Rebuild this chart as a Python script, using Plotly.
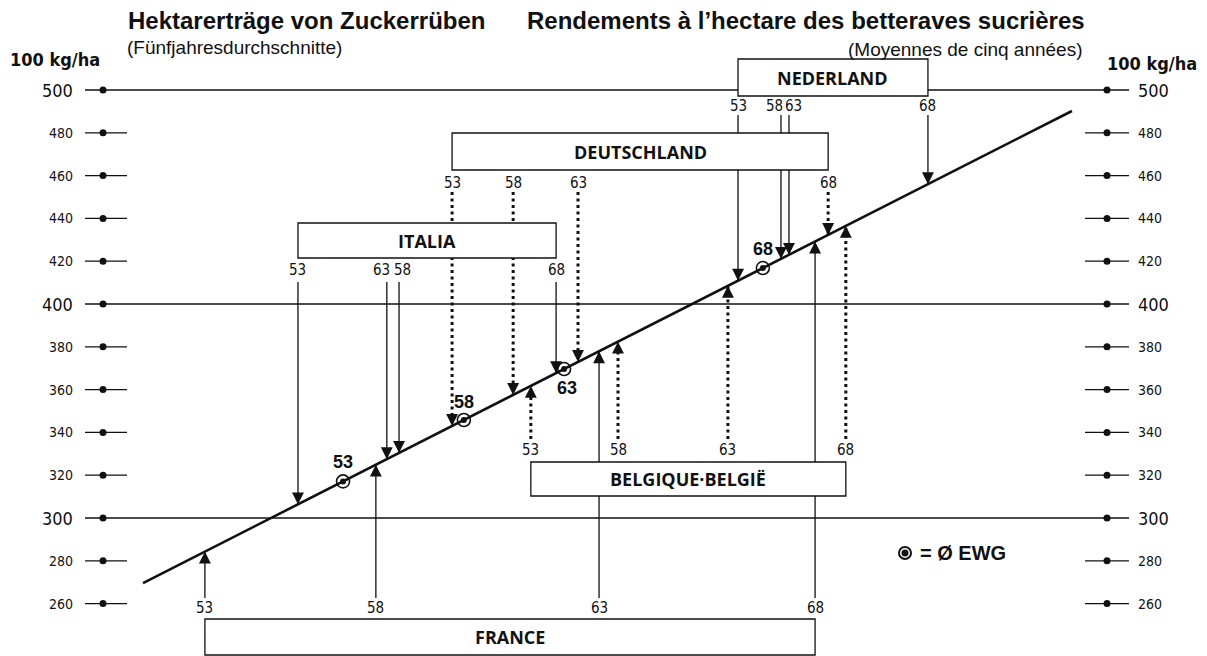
import plotly.graph_objects as go

# ---------------- data (100 kg/ha, five-year averages) ----------------
YEARS = ["53", "58", "63", "68"]
FRANCE = [284.3, 324.9, 377.9, 429.2]
BELGIQUE_BELGIE = [361.7, 382.4, 408.5, 436.5]
ITALIA = [306.4, 330.4, 327.5, 367.7]
DEUTSCHLAND = [343.0, 357.5, 372.9, 432.3]
NEDERLAND = [410.9, 421.1, 423.0, 456.0]
EWG = [317.1, 345.8, 369.6, 416.8]
TICK_VALUES = [260, 280, 300, 320, 340, 360, 380, 400, 420, 440, 460, 480, 500]
MAJOR_TICKS = [300, 400, 500]

# ---------------- geometry / styles ----------------
W, H = 1207, 656
PX_X = 4.211          # pixels per unit along x (diagonal scale)
PX_Y = 2.14           # pixels per unit along y
X_MIN = 235.64
Y_MAX = 542.06
X_RANGE = [X_MIN, X_MIN + W / PX_X]
Y_RANGE = [Y_MAX - H / PX_Y, Y_MAX]
LINE_EXTENT = (269.6, 490.2)


def xd(px):
    return X_MIN + px / PX_X


def yd(py):
    return Y_MAX - py / PX_Y


def xp(px):
    return px / W


def yp(py):
    return 1 - py / H


NARROW = "Liberation Sans Narrow, DejaVu Sans Condensed, Liberation Sans"
SANS = "Liberation Sans, Arial, Helvetica"
BOXFONT = "Open Sans, Lato, DejaVu Sans"
BLACK = "#111111"

COUNTRIES = [
    dict(name="FRANCE", values=FRANCE, dash="solid", up=True, box=(619, 655), label=608, start=598),
    dict(name="BELGIQUE·BELGIË", values=BELGIQUE_BELGIE, dash="dot", up=True, box=(462, 496), label=450, start=439),
    dict(name="ITALIA", values=ITALIA, dash="solid", up=False, box=(223, 258), label=270, start=282),
    dict(name="DEUTSCHLAND", values=DEUTSCHLAND, dash="dot", up=False, box=(133, 170), label=183, start=192),
    dict(name="NEDERLAND", values=NEDERLAND, dash="solid", up=False, box=(59, 96), label=106, start=115),
]
LABEL_SHIFT = {("ITALIA", "58"): 3, ("ITALIA", "63"): -5,
               ("NEDERLAND", "58"): -6, ("NEDERLAND", "63"): 5}
EWG_LABEL_DY = [-19, -18, 19, -19]   # pixel offset of bold year label from circle

fig = go.Figure()
annotations = []
shapes = []

# ---------------- horizontal ticks / reference lines ----------------
tx, ty, dx, dy = [], [], [], []
for t in TICK_VALUES:
    if t in MAJOR_TICKS:
        tx += [xd(85), xd(1129), None]
        ty += [t, t, None]
    else:
        tx += [xd(85), xd(127), None, xd(1085), xd(1129), None]
        ty += [t, t, None, t, t, None]
    dx += [xd(103), xd(1107)]
    dy += [t, t]
    big = t in MAJOR_TICKS
    fs = 18 if big else 14
    annotations.append(dict(x=xd(75), y=t, xref="x", yref="y", text=str(t), showarrow=False,
                            xanchor="right", yanchor="middle",
                            font=dict(family=NARROW, size=fs, color=BLACK)))
    annotations.append(dict(x=xd(1136), y=t, xref="x", yref="y", text=str(t), showarrow=False,
                            xanchor="left", yanchor="middle",
                            font=dict(family=NARROW, size=fs, color=BLACK)))
fig.add_trace(go.Scatter(x=tx, y=ty, mode="lines", line=dict(color=BLACK, width=1.3),
                         hoverinfo="skip", showlegend=False))
fig.add_trace(go.Scatter(x=dx, y=dy, mode="markers", marker=dict(color=BLACK, size=7),
                         hoverinfo="skip", showlegend=False))

# ---------------- diagonal line ----------------
fig.add_trace(go.Scatter(x=list(LINE_EXTENT), y=list(LINE_EXTENT), mode="lines",
                         line=dict(color=BLACK, width=2.6), hoverinfo="skip", showlegend=False))

# ---------------- country arrows, boxes, labels ----------------
for c in COUNTRIES:
    vals = c["values"]
    y_start = yd(c["start"])
    sx, sy = [], []
    for yr, v in zip(YEARS, vals):
        sx += [v, v, None]
        sy += [y_start, v, None]
        annotations.append(dict(x=v, y=v, xref="x", yref="y", text="", showarrow=True,
                                ax=0, ay=(12 if c["up"] else -12), arrowhead=2,
                                arrowsize=1.7, arrowwidth=1.4, arrowcolor=BLACK, standoff=0))
        annotations.append(dict(x=v, y=yd(c["label"]), xref="x", yref="y", text=yr,
                                showarrow=False, xanchor="center", yanchor="middle",
                                xshift=LABEL_SHIFT.get((c["name"], yr), 0),
                                font=dict(family=NARROW, size=15, color=BLACK)))
    if c["dash"] == "dot":
        line = dict(color=BLACK, width=3, dash="3px,3.5px")
    else:
        line = dict(color=BLACK, width=1.3)
    fig.add_trace(go.Scatter(x=sx, y=sy, mode="lines", line=line, hoverinfo="skip",
                             showlegend=False))
    top_px, bot_px = c["box"]
    shapes.append(dict(type="rect", xref="x", yref="y", x0=min(vals), x1=max(vals),
                       y0=yd(bot_px), y1=yd(top_px), line=dict(color=BLACK, width=1.3),
                       fillcolor="white", layer="above"))
    annotations.append(dict(x=(min(vals) + max(vals)) / 2, y=yd((top_px + bot_px) / 2),
                            xref="x", yref="y", text="<b>%s</b>" % c["name"], showarrow=False,
                            xanchor="center", yanchor="middle",
                            font=dict(family=BOXFONT, size=18, color=BLACK)))

# ---------------- EWG averages ----------------
fig.add_trace(go.Scatter(x=EWG, y=EWG, mode="markers",
                         marker=dict(symbol="circle-open", size=13, color=BLACK,
                                     line=dict(width=1.6, color=BLACK)),
                         hoverinfo="skip", showlegend=False))
fig.add_trace(go.Scatter(x=EWG, y=EWG, mode="markers",
                         marker=dict(symbol="circle", size=6, color=BLACK),
                         hoverinfo="skip", showlegend=False))
for yr, v, dyy in zip(YEARS, EWG, EWG_LABEL_DY):
    annotations.append(dict(x=v, y=v, xref="x", yref="y", text="<b>%s</b>" % yr,
                            showarrow=False, yshift=-dyy, xshift=(3 if dyy > 0 else 0),
                            xanchor="center", yanchor="middle",
                            font=dict(family=SANS, size=18, color=BLACK)))

# legend symbol
fig.add_trace(go.Scatter(x=[xd(905)], y=[yd(553)], mode="markers",
                         marker=dict(symbol="circle-open", size=12, color=BLACK,
                                     line=dict(width=2, color=BLACK)),
                         hoverinfo="skip", showlegend=False))
fig.add_trace(go.Scatter(x=[xd(905)], y=[yd(553)], mode="markers",
                         marker=dict(symbol="circle", size=7, color=BLACK),
                         hoverinfo="skip", showlegend=False))
annotations.append(dict(x=xp(918), y=yp(553), xref="paper", yref="paper",
                        text="<b>= Ø EWG</b>", showarrow=False, xanchor="left",
                        yanchor="middle", font=dict(family=SANS, size=20, color=BLACK)))

# ---------------- titles ----------------
annotations += [
    dict(x=xp(126), y=yp(21), text="<b>Hektarerträge von Zuckerrüben</b>",
         xanchor="left", font=dict(family=SANS, size=24, color=BLACK)),
    dict(x=xp(125), y=yp(47), text="(Fünfjahresdurchschnitte)",
         xanchor="left", font=dict(family=SANS, size=19, color=BLACK)),
    dict(x=xp(1087), y=yp(20), text="<b>Rendements à l’hectare des betteraves sucrières</b>",
         xanchor="right", font=dict(family=SANS, size=24, color=BLACK)),
    dict(x=xp(1084), y=yp(49), text="(Moyennes de cinq années)",
         xanchor="right", font=dict(family=SANS, size=19, color=BLACK)),
    dict(x=xp(8), y=yp(60), text="<b>100 kg/ha</b>",
         xanchor="left", font=dict(family=NARROW, size=18, color=BLACK)),
    dict(x=xp(1105), y=yp(64), text="<b>100 kg/ha</b>",
         xanchor="left", font=dict(family=NARROW, size=18, color=BLACK)),
]
for a in annotations[-6:]:
    a.update(xref="paper", yref="paper", showarrow=False, yanchor="middle")

fig.update_layout(
    width=W, height=H,
    margin=dict(l=0, r=0, t=0, b=0),
    paper_bgcolor="white", plot_bgcolor="white",
    xaxis=dict(range=X_RANGE, visible=False, fixedrange=True),
    yaxis=dict(range=Y_RANGE, visible=False, fixedrange=True),
    annotations=annotations,
    shapes=shapes,
    showlegend=False,
)

fig.write_html("out.html", config={"displayModeBar": False},
               post_script="document.body.style.margin='0';")
